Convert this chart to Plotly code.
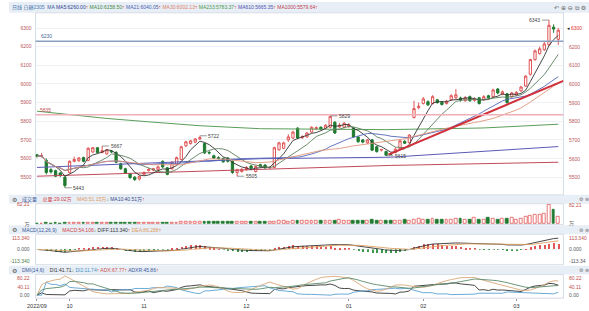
import plotly.graph_objects as go
import pandas as pd
import numpy as np

# ---------------- data ----------------
month_ticks = [0, 7, 23, 45, 67, 83, 103]
month_labels = ["2022/09", "10", "11", "12", "01", "02", "03"]

open_ = [5620, 5612, 5590, 5540, 5535, 5522, 5500, 5525, 5585, 5588, 5605, 5590, 5635, 5658, 5632, 5625, 5640, 5632, 5572, 5545,
         5518, 5500, 5490, 5515, 5535, 5538, 5540, 5585, 5550, 5545, 5570, 5595, 5668, 5680, 5688, 5705, 5680, 5632, 5615, 5605,
         5600, 5603, 5585, 5525, 5530, 5540, 5560, 5530, 5567, 5565, 5550, 5552, 5647, 5655, 5700, 5710, 5763, 5712, 5716, 5742,
         5760, 5768, 5763, 5768, 5795, 5770, 5768, 5772, 5763, 5716, 5700, 5684, 5700, 5663, 5645, 5637, 5625, 5632, 5652, 5692,
         5685, 5820, 5873, 5895, 5905, 5895, 5915, 5902, 5895, 5915, 5926, 5925, 5910, 5932, 5912, 5926, 5916, 5937, 5932, 5973,
         5945, 5947, 5931, 5940, 5963, 5989, 6052, 6131, 6163, 6184, 6210, 6305, 6240]
high = [5625, 5630, 5600, 5548, 5540, 5528, 5505, 5590, 5610, 5608, 5610, 5660, 5662, 5660, 5667, 5652, 5645, 5640, 5578, 5550,
        5522, 5505, 5510, 5530, 5548, 5550, 5562, 5590, 5555, 5585, 5610, 5668, 5695, 5700, 5710, 5722, 5685, 5640, 5620, 5612,
        5605, 5606, 5590, 5545, 5548, 5560, 5565, 5562, 5572, 5570, 5558, 5663, 5690, 5690, 5730, 5750, 5768, 5725, 5742, 5772,
        5772, 5772, 5784, 5829, 5800, 5790, 5795, 5790, 5768, 5720, 5705, 5705, 5705, 5668, 5652, 5642, 5630, 5658, 5700, 5698,
        5730, 5910, 5900, 5930, 5912, 5940, 5920, 5908, 5915, 5945, 5973, 5932, 5935, 5938, 5928, 5930, 5940, 5942, 5975, 5978,
        5965, 5952, 5958, 5962, 5990, 6048, 6135, 6185, 6200, 6225, 6343, 6320, 6300]
low = [5605, 5605, 5515, 5520, 5500, 5500, 5443, 5520, 5580, 5583, 5580, 5585, 5630, 5628, 5628, 5620, 5630, 5575, 5540, 5518,
       5490, 5480, 5482, 5510, 5530, 5532, 5535, 5550, 5510, 5540, 5565, 5590, 5662, 5675, 5683, 5700, 5625, 5622, 5598, 5595,
       5578, 5578, 5518, 5505, 5525, 5535, 5540, 5525, 5552, 5545, 5545, 5548, 5642, 5650, 5690, 5705, 5705, 5705, 5712, 5738,
       5752, 5752, 5758, 5763, 5732, 5765, 5762, 5765, 5712, 5685, 5682, 5678, 5640, 5632, 5638, 5615, 5618, 5628, 5648, 5678,
       5680, 5815, 5865, 5890, 5882, 5890, 5895, 5885, 5890, 5910, 5920, 5905, 5905, 5905, 5905, 5890, 5910, 5920, 5928, 5945,
       5940, 5895, 5925, 5935, 5958, 5985, 6045, 6125, 6158, 6178, 6205, 6275, 6210]
close = [5612, 5615, 5525, 5528, 5505, 5510, 5455, 5585, 5595, 5603, 5585, 5655, 5658, 5632, 5642, 5647, 5636, 5580, 5545, 5522,
         5498, 5487, 5505, 5525, 5542, 5545, 5555, 5555, 5515, 5580, 5605, 5663, 5690, 5695, 5705, 5712, 5630, 5630, 5602, 5600,
         5582, 5585, 5525, 5540, 5542, 5552, 5548, 5558, 5558, 5550, 5552, 5658, 5684, 5684, 5716, 5742, 5710, 5718, 5737, 5768,
         5765, 5758, 5779, 5826, 5737, 5779, 5790, 5780, 5716, 5690, 5688, 5700, 5645, 5637, 5648, 5618, 5622, 5650, 5695, 5682,
         5726, 5868, 5880, 5920, 5888, 5932, 5900, 5890, 5908, 5937, 5942, 5915, 5926, 5910, 5920, 5895, 5932, 5926, 5968, 5952,
         5958, 5900, 5952, 5955, 5984, 6042, 6131, 6178, 6189, 6215, 6315, 6295, 6289]
volume = [2, 2, 3, 2, 3, 2, 4,
          4, 3, 3, 3, 4, 4, 3, 3, 3, 4, 4, 4, 4, 5, 4, 4,
          5, 5, 5, 6, 6, 6, 6, 7, 8, 9, 8, 8, 9, 8, 8, 8, 8, 9, 8, 9, 8, 8,
          9, 9, 9, 10, 9, 9, 10, 13, 12, 11, 12, 13, 14, 12, 12, 13, 14, 13, 13, 14, 17, 15,
          14, 15, 14, 13, 13, 16, 15, 13, 15, 14, 14, 15, 16, 13, 16, 22,
          20, 19, 21, 18, 19, 17, 20, 22, 24, 20, 19, 28, 18, 20, 26, 21, 19, 23, 22, 28,
          20, 24, 30, 36, 38, 40, 42.8, 82.21, 62, 29.02]

# long moving averages (candle index, value)
ma233_x = [0, 15, 24, 35, 48, 75, 96, 112]
ma233_y = [5854, 5815, 5797, 5776, 5760, 5755, 5764, 5784]
ma610_x = [0, 34, 48, 76, 112]
ma610_y = [5552, 5586, 5599, 5607, 5664]
ma1000_x = [0, 24, 49, 76, 112]
ma1000_y = [5505, 5524, 5540, 5563, 5580]

# drawn objects
trend_x = [75.5, 113.1]
trend_y = [5621, 6017]
hline_blue = 6230
hline_red = 5835

price_ticks = [5500, 5600, 5700, 5800, 5900, 6000, 6100, 6200, 6300]
extremes = [(6, 5443, "low"), (14, 5667, "high"), (35, 5722, "high"), (43, 5505, "low"),
            (63, 5829, "high"), (75, 5615, "low"), (110, 6343, "high_left")]

ma_header = [("MA5", "6260.00", "#2b3f8f"), ("MA10", "6158.50", "#3f8a3f"), ("MA21", "6040.05", "#4b5fb0"),
             ("MA30", "6002.13", "#e0826a"), ("MA233", "5783.37", "#4a9a4a"), ("MA610", "5665.35", "#5050b0"),
             ("MA1000", "5579.64", "#c04050")]

# ---------------- geometry helpers ----------------
W, H = 589, 311
def PX(v): return v / W
def PY(v): return 1 - v / H

X0, X1 = 27, 563
x = list(range(len(close)))
s_close = pd.Series(close, dtype=float)
s_high = pd.Series(high, dtype=float)
s_low = pd.Series(low, dtype=float)

UP = "#e05555"
DOWN = "#1f7a30"
FONT = "Liberation Sans, Noto Sans CJK SC, DejaVu Sans, sans-serif"

fig = go.Figure()

# long MAs
fig.add_trace(go.Scatter(x=ma233_x, y=ma233_y, mode="lines", line=dict(color="#5a9e5a", width=1), yaxis="y"))
fig.add_trace(go.Scatter(x=ma610_x, y=ma610_y, mode="lines", line=dict(color="#5a5ab8", width=1), yaxis="y"))
fig.add_trace(go.Scatter(x=ma1000_x, y=ma1000_y, mode="lines", line=dict(color="#c04a5a", width=1), yaxis="y"))

# short MAs computed from closes
ma_cols = {5: "#333333", 10: "#5f7f5f", 21: "#5566b8", 30: "#e0957a"}
for n, c in ma_cols.items():
    fig.add_trace(go.Scatter(x=x, y=s_close.rolling(n, min_periods=1).mean(), mode="lines",
                             line=dict(color=c, width=0.9), yaxis="y"))

fig.add_trace(go.Candlestick(x=x, open=open_, high=high, low=low, close=close, yaxis="y",
                             increasing=dict(line=dict(color=UP, width=1), fillcolor="white"),
                             decreasing=dict(line=dict(color=DOWN, width=1), fillcolor=DOWN),
                             whiskerwidth=0))

fig.add_trace(go.Scatter(x=trend_x, y=trend_y, mode="lines", line=dict(color="#d0303a", width=2), yaxis="y"))

# volume
up_flags = [c >= o for o, c in zip(open_, close)]
fig.add_trace(go.Bar(x=x, y=volume, yaxis="y2", width=0.62,
                     marker=dict(color=["white" if u else DOWN for u in up_flags],
                                 line=dict(color=[UP if u else DOWN for u in up_flags], width=0.8))))

# MACD
ema12 = s_close.ewm(span=12, adjust=False).mean()
ema26 = s_close.ewm(span=26, adjust=False).mean()
diff = ema12 - ema26
dea = diff.ewm(span=9, adjust=False).mean()
macd = 2 * (diff - dea)
fig.add_trace(go.Bar(x=x, y=macd, yaxis="y3", width=0.22,
                     marker=dict(color=[UP if v >= 0 else "#3a9a4a" for v in macd], line=dict(width=0))))
fig.add_trace(go.Scatter(x=x, y=diff, mode="lines", line=dict(color="#333333", width=0.9), yaxis="y3"))
fig.add_trace(go.Scatter(x=x, y=dea, mode="lines", line=dict(color="#e0a060", width=0.9), yaxis="y3"))

# DMI(14,6)
prev_c = s_close.shift(1)
tr = pd.concat([s_high - s_low, (s_high - prev_c).abs(), (s_low - prev_c).abs()], axis=1).max(axis=1)
hd = s_high - s_high.shift(1)
ld = s_low.shift(1) - s_low
dmp = hd.where((hd > 0) & (hd > ld), 0).fillna(0)
dmm = ld.where((ld > 0) & (ld > hd), 0).fillna(0)
trs = tr.rolling(14, min_periods=1).sum()
pdi = dmp.rolling(14, min_periods=1).sum() * 100 / trs
mdi = dmm.rolling(14, min_periods=1).sum() * 100 / trs
dx = ((mdi - pdi).abs() / (mdi + pdi).replace(0, np.nan) * 100).fillna(0)
adx = dx.rolling(6, min_periods=1).mean()
adxr = (adx + adx.shift(6).bfill()) / 2
for ser, c in [(pdi, "#333333"), (mdi, "#5aa0d0"), (adx, "#d8a878"), (adxr, "#5a8a6a")]:
    fig.add_trace(go.Scatter(x=x, y=ser, mode="lines", line=dict(color=c, width=0.9), yaxis="y4"))

# ---------------- layout ----------------
panels = {
    "yaxis": (11, 196, [5405, 6382]),
    "yaxis2": (205, 226, [-2.1, 86.4]),
    "yaxis3": (236, 267, [-152.8, 152.8]),
    "yaxis4": (277, 301, [-14.2, 99.1]),
}
left_ticks = {
    "yaxis": (price_ticks, [str(v) for v in price_ticks], ["#b9575a"] * 9),
    "yaxis2": ([82.21, 0], ["82.21", "万"], ["#c0504d", "#666"]),
    "yaxis3": ([113.34, 0, -113.34], ["113.340", "0.000", "-113.340"], ["#c0504d", "#555", "#4a7a4a"]),
    "yaxis4": ([80.22, 40.11, 0], ["80.22", "40.11", "0.00"], ["#c0504d", "#c0504d", "#555"]),
}
layout = dict(width=W, height=H, margin=dict(l=0, r=0, t=0, b=0), paper_bgcolor="white", plot_bgcolor="white",
              showlegend=False, font=dict(family=FONT, size=5, color="#333"), bargap=0, barmode="overlay")
layout["xaxis"] = dict(domain=[PX(X0), PX(X1)], range=[-0.3, 113.1], anchor="y4", tickvals=month_ticks,
                       ticktext=month_labels, tickfont=dict(size=5.5, color="#333"), ticks="outside", ticklen=2,
                       tickcolor="#999", showgrid=False, zeroline=False, showline=False,
                       rangeslider=dict(visible=False), fixedrange=True)
for name, (top, bot, rng) in panels.items():
    tv, tt, tc = left_ticks[name]
    layout[name] = dict(domain=[PY(bot), PY(top)], range=rng, tickvals=tv,
                        ticktext=[f"<span style='color:{c}'>{t}</span>" for t, c in zip(tt, tc)],
                        showgrid=(name == "yaxis"), gridcolor="#eef1f5", zeroline=False, showline=False,
                        ticks="", ticklabelstandoff=3 if name == "yaxis" else 5, fixedrange=True,
                        anchor="x", tickfont=dict(size=5))
fig.update_layout(**layout)

shapes = []
ann = []
# header strips
for y0, y1 in [(0, 11), (196, 205), (227, 236), (268, 277)]:
    shapes.append(dict(type="rect", xref="paper", yref="paper", x0=0, x1=1, y0=PY(y1), y1=PY(y0),
                       fillcolor="#e8eef6", line=dict(width=0), layer="below"))
# panel borders
for _, (top, bot, _) in panels.items():
    shapes.append(dict(type="rect", xref="paper", yref="paper", x0=PX(X0), x1=PX(X1), y0=PY(bot), y1=PY(top),
                       line=dict(color="#d6dde6", width=1), layer="below"))
# MACD zero line
shapes.append(dict(type="line", xref="paper", yref="y3", x0=PX(X0), x1=PX(X1), y0=0, y1=0,
                   line=dict(color="#dddddd", width=0.6, dash="dot")))
# horizontal drawn lines
shapes.append(dict(type="line", xref="paper", yref="y", x0=PX(X0), x1=PX(X1), y0=hline_blue, y1=hline_blue,
                   line=dict(color="#8aa0bf", width=1.5)))
shapes.append(dict(type="line", xref="paper", yref="y", x0=PX(X0), x1=PX(X1), y0=hline_red, y1=hline_red,
                   line=dict(color="#efb0b8", width=1.5)))
ann.append(dict(xref="paper", yref="y", x=PX(30), y=hline_blue, yshift=5, text=str(hline_blue), showarrow=False,
                xanchor="left", font=dict(size=5, color="#4a6a9a")))
ann.append(dict(xref="paper", yref="y", x=PX(29), y=hline_red, yshift=5, text=str(hline_red), showarrow=False,
                xanchor="left", font=dict(size=5, color="#c05050")))

# extremes labels
for i, v, kind in extremes:
    ax = -14 if kind == "high_left" else 14
    ann.append(dict(x=i, y=v, xref="x", yref="y", text=str(v), showarrow=True, arrowhead=0, arrowwidth=0.6,
                    arrowcolor="#555", ax=ax, ay=0, font=dict(size=5, color="#444"), standoff=0))

# right-side labels
def right_labels(yref, vals, texts, colors):
    for v, t, c in zip(vals, texts, colors):
        ann.append(dict(xref="paper", yref=yref, x=PX(X1 + 4), y=v, text=t, showarrow=False, xanchor="left",
                        font=dict(size=5, color=c)))
right_labels("y", price_ticks[:-1], [str(v) for v in price_ticks[:-1]], ["#b9575a"] * 8)
ann.append(dict(xref="paper", yref="y", x=PX(X1 + 2), y=6300, text="◂ <span style='color:#e03030'>6300</span>",
                showarrow=False, xanchor="left", font=dict(size=5, color="#222")))
right_labels("y2", [82.21, 0], ["82.21", "万"], ["#c0504d", "#666"])
right_labels("y3", [113.34, 0, -113.34], ["113.340", "0.000", "-113.34"], ["#c0504d", "#555", "#555"])
right_labels("y4", [80.22, 40.11, 0], ["80.22", "40.11", "0.00"], ["#c0504d", "#c0504d", "#555"])

def sp(t, c):
    return f"<span style='color:{c}'>{t}</span>"
UPA = sp("↑", "#e03030")
DNA = sp("↓", "#2a8a2a")

hdr = sp("日线 白糖2305", "#4a78b0") + "  " + sp("MA", "#3a5a9a") + " " + " ".join(
    sp(f"{n}:{v}", c) + UPA for n, v, c in ma_header)
ann.append(dict(xref="paper", yref="paper", x=PX(1), y=PY(5.5), text=hdr, showarrow=False, xanchor="left",
                yanchor="middle", font=dict(size=5)))
ann.append(dict(xref="paper", yref="paper", x=PX(588), y=PY(5.5), text="↶ ⊕ ⊖ ⧉ ⚙", showarrow=False,
                xanchor="right", yanchor="middle", font=dict(size=6, color="#666", family="DejaVu Sans")))

sub_headers = [
    (200.5, sp("成交量", "#3a5a9a") + "    " + sp("总量:29.02万", "#d04040") + "    " + sp("MA5:51.15万", "#e09a60")
     + DNA + " " + sp("MA10:40.51万", "#3a4a8a") + UPA),
    (231.5, sp("MACD(12,26,9)", "#3a5a9a") + "    " + sp("MACD:54.106", "#d04040") + DNA + " "
     + sp("DIFF:113.340", "#333") + UPA + " " + sp("DEA:86.288", "#e09a60") + UPA),
    (272.5, sp("DMI(14,6)", "#3a5a9a") + "    " + sp("DI1:41.71", "#333") + DNA + " " + sp("DI2:11.74", "#4a90c8")
     + UPA + " " + sp("ADX:67.77", "#d05050") + UPA + " " + sp("ADXR:45.86", "#3a5a9a") + UPA),
]
for yy, t in sub_headers:
    ann.append(dict(xref="paper", yref="paper", x=PX(1), y=PY(yy), text="⚙", showarrow=False, xanchor="left",
                    yanchor="middle", font=dict(size=6, color="#555", family="DejaVu Sans")))
    ann.append(dict(xref="paper", yref="paper", x=PX(11), y=PY(yy), text=t, showarrow=False, xanchor="left",
                    yanchor="middle", font=dict(size=5)))
    ann.append(dict(xref="paper", yref="paper", x=PX(577), y=PY(yy), text="⚙ ⊗", showarrow=False, xanchor="left",
                    yanchor="middle", font=dict(size=5, color="#777", family="DejaVu Sans")))

fig.update_layout(shapes=shapes, annotations=ann)
fig.write_html("out.html")
